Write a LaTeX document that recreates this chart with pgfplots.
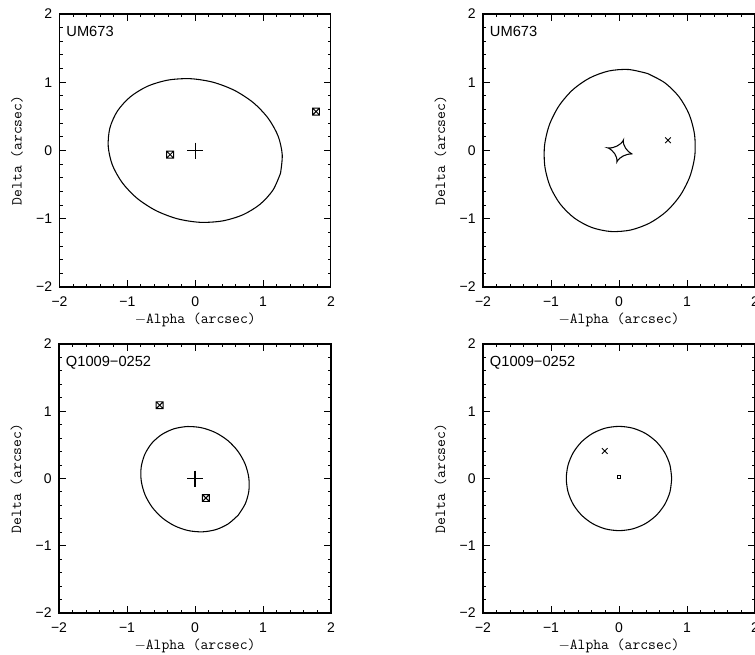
\documentclass[border=0pt]{standalone}
\usepackage{fontspec}
\setmainfont{Liberation Sans}
\usepackage{pgfplots}
\pgfplotsset{compat=1.18}

% square with a cross inside
\pgfdeclareplotmark{boxx}{%
  \pgfpathrectangle{\pgfqpoint{-\pgfplotmarksize}{-\pgfplotmarksize}}{\pgfqpoint{2\pgfplotmarksize}{2\pgfplotmarksize}}%
  \pgfpathmoveto{\pgfqpoint{-\pgfplotmarksize}{-\pgfplotmarksize}}%
  \pgfpathlineto{\pgfqpoint{\pgfplotmarksize}{\pgfplotmarksize}}%
  \pgfpathmoveto{\pgfqpoint{-\pgfplotmarksize}{\pgfplotmarksize}}%
  \pgfpathlineto{\pgfqpoint{\pgfplotmarksize}{-\pgfplotmarksize}}%
  \pgfusepathqstroke}

\newcommand{\ticklabelfont}{\fontsize{10.5}{12}\selectfont}
\newcommand{\labelfont}{\fontsize{11.4}{13}\selectfont\ttfamily}
\newcommand{\namefont}{\fontsize{11}{13}\selectfont}

\tikzset{panelname/.style={anchor=north west, inner sep=0pt, font=\namefont, xshift=5pt, yshift=-9pt}}

\pgfplotsset{
  panel/.style={
    scale only axis, width=204pt, height=204.75pt,
    xmin=-2, xmax=2, ymin=-2, ymax=2,
    xtick={-2,-1,0,1,2}, ytick={-2,-1,0,1,2},
    xticklabels={−2,−1,0,1,2}, yticklabels={−2,−1,0,1,2},
    minor tick num=4,
    tick align=inside, xtick pos=both, ytick pos=both,
    major tick length=5pt, minor tick length=2.5pt,
    tick style={black, line width=0.7pt},
    axis line style={line width=0.8pt},
    ticklabel style={font=\ticklabelfont},
    xticklabel style={yshift=-4pt},
    yticklabel style={xshift=-2pt},
    xlabel={$-$Alpha (arcsec)}, ylabel={Delta (arcsec)},
    label style={font=\labelfont, inner sep=0pt},
    xlabel style={at={(axis description cs:0.5,0)}, anchor=north, yshift=-19pt},
    ylabel style={at={(axis description cs:-0.134,0.5)}, anchor=south},
    clip=false,
  },
  curve/.style={black, line width=0.8pt, no marks},
}

\begin{document}
\begin{tikzpicture}
\useasboundingbox (0,0) rectangle (566.25pt,-490.5pt);
\clip (0,0) rectangle (566.25pt,-490.5pt);

% ---------------- UM673, left ----------------
\begin{axis}[panel, width=203.6pt, at={(44.625pt,-10.5pt)}, anchor=north west]
\addplot[curve, smooth] coordinates {
 (1.257,-0.332) (1.282,-0.062) (1.221,0.212) (1.075,0.472) (0.857,0.700)
 (0.580,0.880) (0.264,1.000) (-0.070,1.052) (-0.400,1.032) (-0.702,0.942)
 (-0.956,0.787) (-1.146,0.579) (-1.257,0.332) (-1.282,0.062) (-1.221,-0.212)
 (-1.075,-0.472) (-0.857,-0.700) (-0.580,-0.880) (-0.264,-1.000) (0.070,-1.052)
 (0.400,-1.032) (0.702,-0.942) (0.956,-0.787) (1.146,-0.579) (1.257,-0.332)};
\addplot[only marks, mark=boxx, mark size=2.6pt, line width=0.7pt] coordinates {(-0.37,-0.06) (1.78,0.57)};
\addplot[only marks, mark=+, mark size=6pt, line width=0.8pt] coordinates {(0,0)};
\node[panelname] at (rel axis cs:0,1) {UM673};
\end{axis}

% ---------------- UM673, right ----------------
\begin{axis}[panel, at={(362.25pt,-10.5pt)}, anchor=north west]
\addplot[curve, smooth] coordinates {
 (0.420,1.128) (0.139,1.187) (-0.151,1.165) (-0.431,1.063) (-0.680,0.890)
 (-0.882,0.655) (-1.024,0.376) (-1.095,0.072) (-1.090,-0.238) (-1.011,-0.531)
 (-0.862,-0.788) (-0.654,-0.992) (-0.400,-1.128) (-0.119,-1.187) (0.171,-1.165)
 (0.451,-1.063) (0.700,-0.890) (0.902,-0.655) (1.044,-0.376) (1.115,-0.072)
 (1.110,0.238) (1.031,0.531) (0.882,0.788) (0.674,0.992) (0.420,1.128)};
% caustic
\addplot[curve] coordinates {
 (0.197,-0.052) (0.180,-0.045) (0.140,-0.016) (0.097,0.033) (0.070,0.090)
 (0.062,0.135) (0.064,0.151) (0.056,0.136) (0.025,0.101) (-0.030,0.065)
 (-0.094,0.042) (-0.144,0.036) (-0.163,0.038) (-0.146,0.031) (-0.106,0.002)
 (-0.063,-0.047) (-0.036,-0.104) (-0.029,-0.149) (-0.030,-0.165) (-0.022,-0.150)
 (0.009,-0.115) (0.064,-0.079) (0.128,-0.056) (0.178,-0.050) (0.197,-0.052)};
\addplot[only marks, mark=x, mark size=3pt, line width=0.7pt] coordinates {(0.72,0.15)};
\node[panelname] at (rel axis cs:0,1) {UM673};
\end{axis}

% ---------------- Q1009-0252, left ----------------
\begin{axis}[panel, height=201.75pt, at={(44.25pt,-258pt)}, anchor=north west]
\addplot[curve, smooth] coordinates {
 (0.636,-0.544) (0.739,-0.377) (0.792,-0.185) (0.790,0.019) (0.735,0.221)
 (0.630,0.407) (0.482,0.565) (0.301,0.683) (0.100,0.754) (-0.109,0.773)
 (-0.310,0.739) (-0.489,0.654) (-0.636,0.524) (-0.739,0.357) (-0.792,0.165)
 (-0.790,-0.039) (-0.735,-0.241) (-0.630,-0.427) (-0.482,-0.585) (-0.301,-0.703)
 (-0.100,-0.774) (0.109,-0.793) (0.310,-0.759) (0.489,-0.674) (0.636,-0.544)};
\addplot[only marks, mark=boxx, mark size=2.6pt, line width=0.7pt] coordinates {(-0.52,1.09) (0.16,-0.29)};
\addplot[only marks, mark=+, mark size=6pt, line width=0.8pt] coordinates {(0,0)};
\node[panelname] at (rel axis cs:0,1) {Q1009−0252};
\end{axis}

% ---------------- Q1009-0252, right ----------------
\begin{axis}[panel, height=201.75pt, at={(362.25pt,-258pt)}, anchor=north west]
\addplot[curve, smooth] coordinates {
 (0.775,0) (0.749,0.201) (0.671,0.388) (0.548,0.548) (0.388,0.671)
 (0.201,0.749) (0,0.775) (-0.201,0.749) (-0.388,0.671) (-0.548,0.548)
 (-0.671,0.388) (-0.749,0.201) (-0.775,0) (-0.749,-0.201) (-0.671,-0.388)
 (-0.548,-0.548) (-0.388,-0.671) (-0.201,-0.749) (0,-0.775) (0.201,-0.749)
 (0.388,-0.671) (0.548,-0.548) (0.671,-0.388) (0.749,-0.201) (0.775,0)};
\addplot[only marks, mark=square, mark size=1.2pt, line width=0.6pt] coordinates {(0,0.02)};
\addplot[only marks, mark=x, mark size=3pt, line width=0.7pt] coordinates {(-0.21,0.41)};
\node[panelname] at (rel axis cs:0,1) {Q1009−0252};
\end{axis}
\end{tikzpicture}
\end{document}
